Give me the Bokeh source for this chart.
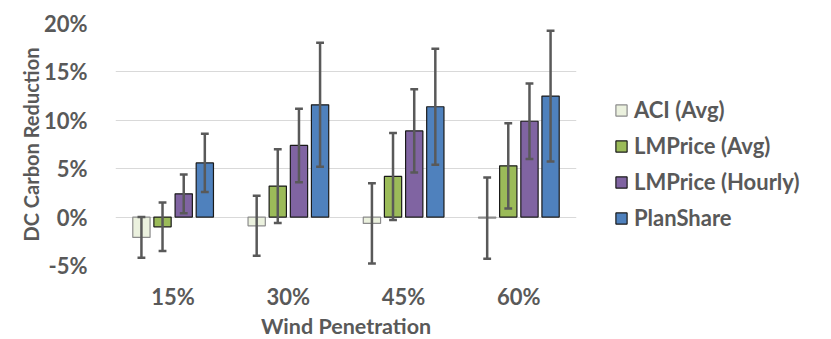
from bokeh.plotting import figure
from bokeh.models import (ColumnDataSource, FactorRange, Range1d, FixedTicker,
                          PrintfTickFormatter, Legend, LegendItem)
from bokeh.transform import dodge
from bokeh.embed import file_html
from bokeh.resources import INLINE

categories = ["15%", "30%", "45%", "60%"]
series = ["ACI (Avg)", "LMPrice (Avg)", "LMPrice (Hourly)", "PlanShare"]
aci = [-2.1, -0.9, -0.65, -0.1]
aci_err = [2.1, 3.1, 4.15, 4.2]
lmp_avg = [-1.0, 3.2, 4.2, 5.3]
lmp_avg_err = [2.5, 3.8, 4.5, 4.4]
lmp_hourly = [2.4, 7.4, 8.9, 9.9]
lmp_hourly_err = [2.0, 3.8, 4.3, 3.9]
planshare = [5.6, 11.6, 11.4, 12.5]
planshare_err = [3.0, 6.4, 6.0, 6.75]
y_ticks = [-5, 0, 5, 10, 15, 20]

values = [aci, lmp_avg, lmp_hourly, planshare]
errors = [aci_err, lmp_avg_err, lmp_hourly_err, planshare_err]
fills = ["#EBF1DE", "#9BBB59", "#8064A2", "#4F81BD"]
outlines = ["#8C8C8C", "#1A1A1A", "#1A1A1A", "#1A1A1A"]
offsets = [-0.275, -0.092, 0.092, 0.275]

FONT = "Lato"
TXT = "#595959"

p = figure(frame_width=461, frame_height=242,
           x_range=FactorRange(*categories, range_padding=0),
           y_range=Range1d(-5, 20), output_backend="svg", toolbar_location=None,
           min_border_left=115, min_border_right=255, min_border_top=23,
           min_border_bottom=74)
p.outline_line_color = None
p.xgrid.grid_line_color = None
p.ygrid.grid_line_color = "#D9D9D9"
p.ygrid.grid_line_width = 1.2
p.yaxis.ticker = FixedTicker(ticks=y_ticks)
p.yaxis.formatter = PrintfTickFormatter(format="%d%%")
for ax in (p.xaxis, p.yaxis):
    ax.axis_line_color = None
    ax.major_tick_line_color = None
    ax.minor_tick_line_color = None
    ax.major_label_text_font = FONT
    ax.major_label_text_font_style = "bold"
    ax.major_label_text_font_size = "22px"
    ax.major_label_text_color = TXT
    ax.axis_label_text_font = FONT
    ax.axis_label_text_font_style = "bold"
    ax.axis_label_text_color = TXT
p.yaxis.axis_label = "DC Carbon Reduction"
p.xaxis.axis_label = "Wind Penetration"
p.yaxis.axis_label_text_font_size = "20px"
p.xaxis.axis_label_text_font_size = "21.5px"
p.yaxis.major_label_standoff = 22
p.yaxis.axis_label_standoff = -2
p.xaxis.major_label_standoff = 11
p.xaxis.axis_label_standoff = 0

items = []
for name, vals, errs, fc, lc, off in zip(series, values, errors, fills, outlines, offsets):
    src = ColumnDataSource(dict(cat=categories, val=vals,
                                lo=[v - e for v, e in zip(vals, errs)],
                                hi=[v + e for v, e in zip(vals, errs)]))
    r = p.vbar(x=dodge("cat", off, range=p.x_range), top="val", bottom=0, width=0.15,
               source=src, fill_color=fc, line_color=lc, line_width=1.2)
    items.append(LegendItem(label=name, renderers=[r]))
    p.segment(x0=dodge("cat", off, range=p.x_range), x1=dodge("cat", off, range=p.x_range),
              y0="lo", y1="hi", source=src, line_color="#595959", line_width=2.5)
    for col in ("lo", "hi"):
        p.segment(x0=dodge("cat", off - 0.034, range=p.x_range),
                  x1=dodge("cat", off + 0.034, range=p.x_range),
                  y0=col, y1=col, source=src, line_color="#595959", line_width=2.5)

legend = Legend(items=items, location=(38, 34), orientation="vertical")
legend.label_text_font = FONT
legend.label_text_font_style = "bold"
legend.label_text_font_size = "22px"
legend.label_text_color = TXT
legend.glyph_width = 14
legend.glyph_height = 14
legend.label_height = 26
legend.spacing = 9
legend.padding = 0
legend.margin = 0
legend.label_standoff = 6
legend.border_line_color = None
legend.background_fill_alpha = 0
p.add_layout(legend, "right")

open("out.html", "w").write(file_html(p, INLINE))
